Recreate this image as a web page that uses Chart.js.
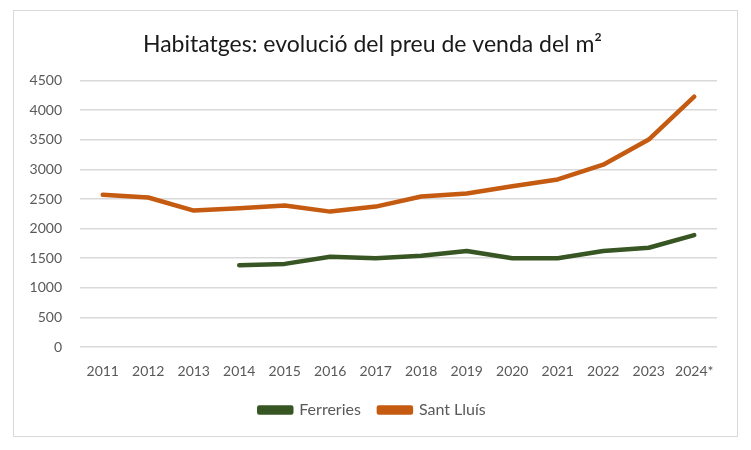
<!DOCTYPE html>
<html>
<head>
<meta charset="utf-8">
<script src="https://cdn.jsdelivr.net/npm/chart.js@4"></script>
<style>
  html, body { margin: 0; padding: 0; background: #fff; }
  #box { position: absolute; left: 13px; top: 10px; width: 723px; height: 425px; border: 1px solid #d9d9d9; }
</style>
</head>
<body>
<div id="box"><canvas id="priceChart"></canvas></div>
<script>
const years = ['2011', '2012', '2013', '2014', '2015', '2016', '2017', '2018', '2019', '2020', '2021', '2022', '2023', '2024*'];
const ferreries = [null, null, null, 1382, 1404, 1523, 1500, 1540, 1620, 1500, 1500, 1620, 1676, 1891];
const santLluis = [2570, 2525, 2304, 2343, 2389, 2287, 2372, 2542, 2593, 2716, 2830, 3080, 3504, 4228];
const yTicks = [0, 500, 1000, 1500, 2000, 2500, 3000, 3500, 4000, 4500];

const font = 'Lato';
const grey = '#595959';

const ctx = document.getElementById('priceChart').getContext('2d');

new Chart(ctx, {
  type: 'line',
  data: {
    labels: years,
    datasets: [{
      label: 'Ferreries',
      data: ferreries,
      borderColor: '#375623',
      backgroundColor: '#375623',
      borderWidth: 4.5,
      pointRadius: 0,
      borderCapStyle: 'round',
      borderJoinStyle: 'round',
      tension: 0
    }, {
      label: 'Sant Lluís',
      data: santLluis,
      borderColor: '#c55a11',
      backgroundColor: '#c55a11',
      borderWidth: 4.5,
      pointRadius: 0,
      borderCapStyle: 'round',
      borderJoinStyle: 'round',
      tension: 0
    }]
  },
  options: {
    responsive: true,
    maintainAspectRatio: false,
    animation: false,
    layout: { padding: { left: 14, right: 20, bottom: 8, top: 0 } },
    scales: {
      x: {
        offset: true,
        grid: { display: false, offset: true },
        border: { display: false },
        ticks: { color: grey, font: { family: font, size: 14 }, padding: 8, maxRotation: 0 },
        afterFit: s => { s.height = 37; }
      },
      y: {
        min: 0,
        max: 4500,
        afterBuildTicks: s => { s.ticks = yTicks.map(v => ({ value: v })); },
        grid: { color: '#d9d9d9', lineWidth: 1.5, drawTicks: false },
        border: { display: false },
        ticks: { color: grey, font: { family: font, size: 14 }, padding: 18, callback: v => String(v) },
        afterFit: s => { s.width = 52; }
      }
    },
    plugins: {
      title: {
        display: true,
        text: 'Habitatges: evolució del preu de venda del m²',
        color: '#1a1a1a',
        font: { family: font, size: 23, weight: 'normal' },
        padding: { top: 20, bottom: 22 }
      },
      legend: {
        position: 'bottom',
        labels: {
          color: grey,
          font: { family: font, size: 16 },
          boxWidth: 32,
          boxHeight: 5,
          padding: 18
        }
      },
      tooltip: { enabled: false }
    }
  }
});
</script>
</body>
</html>
